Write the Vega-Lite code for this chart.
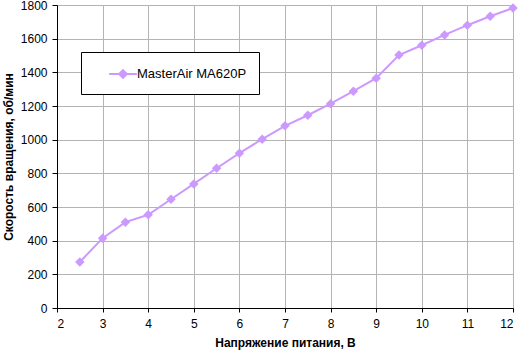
{
  "$schema": "https://vega.github.io/schema/vega-lite/v6.json",
  "autosize": {"type": "none"},
  "width": 456,
  "height": 303,
  "padding": {"left": 57, "top": 5, "right": 6, "bottom": 49},
  "background": "white",
  "config": {
    "view": {"stroke": "#808080", "strokeWidth": 1},
    "font": "Liberation Sans"
  },
  "data": {
    "values": [
      {"v": 2.5, "rpm": 273, "s": "MasterAir MA620P"},
      {"v": 3.0, "rpm": 415, "s": "MasterAir MA620P"},
      {"v": 3.5, "rpm": 510, "s": "MasterAir MA620P"},
      {"v": 4.0, "rpm": 554, "s": "MasterAir MA620P"},
      {"v": 4.5, "rpm": 646, "s": "MasterAir MA620P"},
      {"v": 5.0, "rpm": 737, "s": "MasterAir MA620P"},
      {"v": 5.5, "rpm": 830, "s": "MasterAir MA620P"},
      {"v": 6.0, "rpm": 920, "s": "MasterAir MA620P"},
      {"v": 6.5, "rpm": 1003, "s": "MasterAir MA620P"},
      {"v": 7.0, "rpm": 1082, "s": "MasterAir MA620P"},
      {"v": 7.5, "rpm": 1145, "s": "MasterAir MA620P"},
      {"v": 8.0, "rpm": 1214, "s": "MasterAir MA620P"},
      {"v": 8.5, "rpm": 1288, "s": "MasterAir MA620P"},
      {"v": 9.0, "rpm": 1365, "s": "MasterAir MA620P"},
      {"v": 9.5, "rpm": 1503, "s": "MasterAir MA620P"},
      {"v": 10.0, "rpm": 1561, "s": "MasterAir MA620P"},
      {"v": 10.5, "rpm": 1622, "s": "MasterAir MA620P"},
      {"v": 11.0, "rpm": 1680, "s": "MasterAir MA620P"},
      {"v": 11.5, "rpm": 1733, "s": "MasterAir MA620P"},
      {"v": 12.0, "rpm": 1782, "s": "MasterAir MA620P"}
    ]
  },
  "encoding": {
    "x": {
      "field": "v", "type": "quantitative",
      "scale": {"domain": [2, 12], "nice": false, "zero": false},
      "axis": {
        "values": [2,3,4,5,6,7,8,9,10,11,12],
        "format": "d",
        "title": "Напряжение питания, В",
        "titleFontWeight": "bold", "titleFontSize": 12, "titleColor": "black", "titlePadding": 8,
        "labelFontSize": 12, "labelColor": "black", "labelPadding": 6,
        "domainColor": "black", "tickColor": "black", "tickSize": 4,
        "gridColor": "#b4b4b4", "gridWidth": 1
      }
    },
    "y": {
      "field": "rpm", "type": "quantitative",
      "scale": {"domain": [0, 1800], "nice": false},
      "axis": {
        "values": [0,200,400,600,800,1000,1200,1400,1600,1800],
        "format": "d",
        "title": "Скорость вращения, об/мин",
        "titleFontWeight": "bold", "titleFontSize": 12, "titleColor": "black", "titlePadding": 5,
        "labelFontSize": 12, "labelColor": "black", "labelPadding": 5,
        "domainColor": "black", "tickColor": "black", "tickSize": 5,
        "gridColor": "#b4b4b4", "gridWidth": 1
      }
    },
    "color": {
      "field": "s", "type": "nominal",
      "scale": {"range": ["#cc99ff"]},
      "legend": {
        "title": null,
        "orient": "none",
        "legendX": 24,
        "legendY": 47,
        "strokeColor": "black",
        "fillColor": "white",
        "padding": 12,
        "labelFontSize": 13,
        "labelColor": "black",
        "labelExpr": "datum.label + '\u00a0\u00a0'",
        "symbolType": "M-1.6,0H1.6M0,-0.45L0.45,0L0,0.45L-0.45,0Z",
        "symbolSize": 300,
        "symbolStrokeWidth": 2,
        "symbolFillColor": "#cc99ff",
        "symbolStrokeColor": "#cc99ff",
        "symbolOpacity": 1,
        "symbolOffset": 20,
        "labelOffset": 4
      }
    }
  },
  "layer": [
    {"mark": {"type": "line", "strokeWidth": 2}},
    {"mark": {"type": "point", "shape": "diamond", "filled": true, "size": 90, "opacity": 1}}
  ]
}
